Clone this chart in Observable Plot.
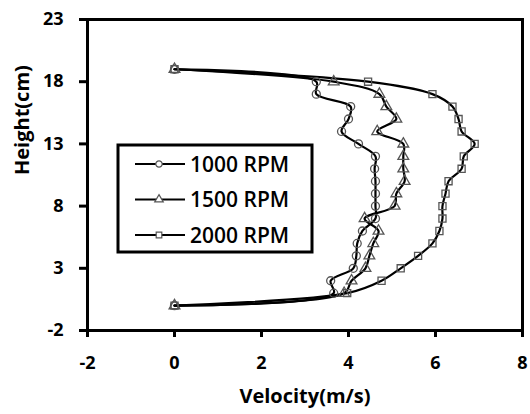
<!DOCTYPE html>
<html>
<head>
<meta charset="utf-8">
<script src="https://cdn.jsdelivr.net/npm/d3@7"></script>
<script src="https://cdn.jsdelivr.net/npm/@observablehq/plot@0.6"></script>
<style>
  html, body { margin: 0; padding: 0; background: #fff; }
  #chart { width: 530px; height: 414px; }
</style>
</head>
<body>
<div id="chart"></div>
<script>
const heights = [0,1,2,3,4,5,6,7,8,9,10,11,12,13,14,15,16,17,18,19];
const v1000 = [0, 3.66, 3.59, 4.11, 4.18, 4.2, 4.32, 4.62, 4.62, 4.62, 4.62, 4.6, 4.62, 4.23, 3.84, 4.0, 4.05, 3.26, 3.26, 0];
const v1500 = [0, 3.9, 4.07, 4.39, 4.48, 4.57, 4.69, 4.37, 5.06, 5.1, 5.29, 5.26, 5.26, 5.26, 4.66, 5.1, 4.87, 4.71, 3.66, 0];
const v2000 = [0, 3.97, 4.76, 5.2, 5.6, 5.93, 6.09, 6.16, 6.16, 6.23, 6.3, 6.6, 6.65, 6.9, 6.6, 6.53, 6.39, 5.93, 4.45, 0];
const seriesNames = ["1000 RPM", "1500 RPM", "2000 RPM"];
const seriesSymbols = ["circle", "triangle", "square"];
const xTicks = [-2, 0, 2, 4, 6, 8];
const yTicks = [-2, 3, 8, 13, 18, 23];

const seriesValues = [v1000, v1500, v2000];
const rows = [];
seriesValues.forEach((vals, si) => {
  vals.forEach((v, i) => rows.push({series: seriesNames[si], symbol: seriesSymbols[si], v, h: heights[i]}));
});

const font = "'Open Sans', sans-serif";
const fmt = d => String(d);
const plot = Plot.plot({
  width: 530,
  height: 414,
  marginLeft: 87,
  marginRight: 8,
  marginTop: 19,
  marginBottom: 84,
  style: {fontFamily: font, fontSize: "18px", color: "#000", background: "#fff"},
  x: {domain: [-2, 8], ticks: xTicks, label: null, axis: null},
  y: {domain: [-2, 23], ticks: yTicks, label: null, axis: null},
  symbol: {domain: seriesNames, range: seriesSymbols},
  marks: [
    Plot.frame({stroke: "#000", strokeWidth: 3}),
    Plot.axisX({ticks: xTicks, tickFormat: fmt, tickSize: 7, tickPadding: 19, strokeWidth: 3, fontSize: 18, fill: "#000", label: null}),
    Plot.axisY({ticks: yTicks, tickFormat: fmt, tickSize: 8, tickPadding: 16, strokeWidth: 3, fontSize: 18, fill: "#000", label: null}),
    Plot.line(rows, {x: "v", y: "h", z: "series", curve: "catmull-rom", stroke: "#000", strokeWidth: 2.2}),
    Plot.dot(rows, {x: "v", y: "h", symbol: "series", r: 4, stroke: "#555", strokeWidth: 1.3, fill: "none"}),
    Plot.text(["Velocity(m/s)"], {frameAnchor: "bottom", dy: 72, text: d => d, fontSize: 20, fill: "#000", ariaLabel: "xlabel"}),
    Plot.text(["Height(cm)"], {frameAnchor: "left", dx: -65, dy: 0, rotate: -90, text: d => d, fontSize: 20, fill: "#000", ariaLabel: "ylabel"})
  ]
});
document.getElementById("chart").appendChild(plot);

const svg = d3.select(plot);
svg.selectAll("text").style("font-weight", "700").style("font-family", font);
svg.selectAll('[aria-label="xlabel"] text, [aria-label="ylabel"] text').style("font-weight", "600");

// In-plot legend
const lg = svg.append("g").style("font-family", font);
lg.append("rect").attr("x", 118).attr("y", 145).attr("width", 194).attr("height", 107)
  .attr("fill", "#fff").attr("stroke", "#000").attr("stroke-width", 3);
const symbolTypes = {circle: d3.symbolCircle, triangle: d3.symbolTriangle, square: d3.symbolSquare};
seriesNames.forEach((name, i) => {
  const yy = 164 + i * 35.5;
  lg.append("line").attr("x1", 135).attr("x2", 185).attr("y1", yy).attr("y2", yy)
    .attr("stroke", "#000").attr("stroke-width", 2);
  lg.append("path").attr("transform", `translate(159,${yy})`)
    .attr("d", d3.symbol(symbolTypes[seriesSymbols[i]], Math.PI * 10)())
    .attr("fill", "#fff").attr("stroke", "#555").attr("stroke-width", 1.2);
  lg.append("text").attr("x", 190).attr("y", yy).attr("dy", "0.36em")
    .style("text-anchor", "start").style("font-size", "21px").style("font-weight", "600")
    .attr("fill", "#000").text(name);
});
</script>
</body>
</html>
